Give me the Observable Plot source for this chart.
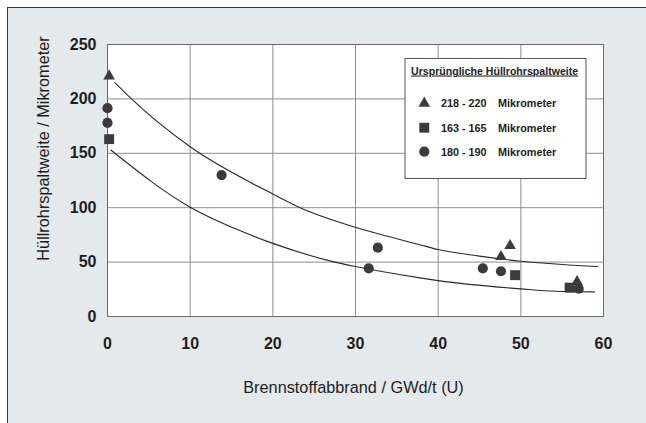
<!DOCTYPE html>
<html>
<head>
<meta charset="utf-8">
<script src="https://cdn.jsdelivr.net/npm/d3@7"></script>
<script src="https://cdn.jsdelivr.net/npm/@observablehq/plot@0.6"></script>
<style>
  html, body { margin: 0; padding: 0; background: #ffffff; width: 646px; height: 423px; overflow: hidden; }
  #panel { position: absolute; left: 7px; top: 7px; width: 700px; height: 500px;
           background: #e4e9ec; border-left: 1.6px solid #3a3a3a; border-top: 1.6px solid #3a3a3a; }
  #chart { position: absolute; left: 0; top: 0; }
</style>
</head>
<body>
<div id="panel"></div>
<div id="chart"></div>
<script>
// ---- data ----
const xTicks = [0, 10, 20, 30, 40, 50, 60];
const yTicks = [0, 50, 100, 150, 200, 250];
const xLabel = "Brennstoffabbrand / GWd/t (U)";
const yLabel = "Hüllrohrspaltweite / Mikrometer";

const legendTitle = "Ursprüngliche Hüllrohrspaltweite";
const seriesNames = ["218 - 220", "163 - 165", "180 - 190"];
const seriesUnit = "Mikrometer";

// triangles: 218 - 220 Mikrometer
const triBurnup = [0.2, 47.6, 48.7, 56.8];
const triGap    = [221, 55, 65, 32];
// squares: 163 - 165 Mikrometer
const sqBurnup = [0.2, 49.3, 55.9];
const sqGap    = [163, 38, 26.5];
// circles: 180 - 190 Mikrometer
const circBurnup = [0, 0, 13.8, 31.6, 32.7, 45.4, 47.6, 57.0];
const circGap    = [191.5, 178, 130, 44.3, 63.3, 44.3, 41.6, 25.5];

// fitted envelope curves (traced)
const upperBurnup = [0.9, 2.9, 10, 20, 23.3, 30, 37.8, 40, 45, 50, 55, 59.3];
const upperGap    = [215, 200, 156, 112.6, 100, 82, 66, 61.5, 55.5, 50.8, 47.8, 45.9];
const lowerBurnup = [0.4, 10, 16, 20, 27.5, 30, 37.8, 40, 50, 54.2, 58.9];
const lowerGap    = [153, 100.5, 79, 67.2, 50, 45.9, 35.5, 33, 25.4, 23.2, 22.6];

const zip = (xs, ys) => xs.map((x, i) => ({x, y: ys[i]}));
const tri = zip(triBurnup, triGap);
const sq = zip(sqBurnup, sqGap);
const circ = zip(circBurnup, circGap);
const upper = zip(upperBurnup, upperGap);
const lower = zip(lowerBurnup, lowerGap);

const font = "'Liberation Sans', Arial, Helvetica, sans-serif";
const ink = "#3b3b3b";
const sizes = {triangle: 4.3, square: 5.6, circle: 5.1};

const chart = Plot.plot({
  width: 646,
  height: 423,
  marginLeft: 107,
  marginRight: 43,
  marginTop: 44,
  marginBottom: 107,
  style: {background: "transparent", fontFamily: font, fontSize: "16px", color: "#1e1e1e", overflow: "visible"},
  x: {domain: [0, 60], label: null},
  y: {domain: [0, 250], label: null},
  marks: [
    Plot.frame({fill: "white", stroke: null}),
    Plot.gridX(xTicks.slice(1, -1), {stroke: "#8e8e8e", strokeOpacity: 1, strokeWidth: 1}),
    Plot.gridY(yTicks.slice(1, -1), {stroke: "#8e8e8e", strokeOpacity: 1, strokeWidth: 1}),
    Plot.frame({stroke: "#6a6a6a", strokeWidth: 1}),
    Plot.axisX(xTicks, {tickSize: 0, tickPadding: 21, fontSize: 16, fontWeight: "bold", label: null}),
    Plot.axisY(yTicks, {tickSize: 0, tickPadding: 11, fontSize: 16, fontWeight: "bold", label: null}),
    Plot.line(upper, {x: "x", y: "y", curve: "monotone-x", stroke: "#2a2a2a", strokeWidth: 1.1}),
    Plot.line(lower, {x: "x", y: "y", curve: "monotone-x", stroke: "#2a2a2a", strokeWidth: 1.1}),
    Plot.dot(tri, {x: "x", y: "y", symbol: "triangle", r: sizes.triangle, fill: ink, stroke: null}),
    Plot.dot(sq, {x: "x", y: "y", symbol: "square", r: sizes.square, fill: ink, stroke: null}),
    Plot.dot(circ, {x: "x", y: "y", symbol: "circle", r: sizes.circle, fill: ink, stroke: null}),
    Plot.text([xLabel], {frameAnchor: "bottom", dx: -2, dy: 76, fontSize: 16.3, fill: "#1e1e1e"}),
    Plot.text([yLabel], {frameAnchor: "top-left", dx: -64, dy: 104, rotate: -90, textAnchor: "middle", lineAnchor: "middle", fontSize: 16.3, fill: "#1e1e1e"})
  ]
});
document.getElementById("chart").appendChild(chart);

// ---- legend box ----
const svg = d3.select(chart);
const lg = svg.append("g").attr("font-family", font).attr("fill", "#222").attr("text-anchor", "start");
lg.append("rect").attr("x", 405).attr("y", 58.5).attr("width", 181).attr("height", 120)
  .attr("fill", "white").attr("stroke", "#555").attr("stroke-width", 1);
lg.append("text").attr("x", 411).attr("y", 74.5).attr("font-size", 10.6).attr("font-weight", "bold")
  .attr("text-anchor", "start").attr("text-decoration", "underline").text(legendTitle);
const symbols = [d3.symbolTriangle, d3.symbolSquare, d3.symbolCircle];
const rs = [sizes.triangle, sizes.square, sizes.circle];
const rowY = [103.3, 127.7, 151.7];
seriesNames.forEach((name, i) => {
  lg.append("path")
    .attr("d", d3.symbol(symbols[i], Math.PI * rs[i] * rs[i])())
    .attr("transform", `translate(424.3,${rowY[i]})`)
    .attr("fill", ink);
  lg.append("text").attr("x", 441).attr("y", rowY[i] + 4).attr("font-size", 10.8).attr("font-weight", "bold")
    .attr("text-anchor", "start").text(name);
  lg.append("text").attr("x", 498).attr("y", rowY[i] + 4).attr("font-size", 10.8).attr("font-weight", "bold")
    .attr("text-anchor", "start").text(seriesUnit);
});
</script>
</body>
</html>
